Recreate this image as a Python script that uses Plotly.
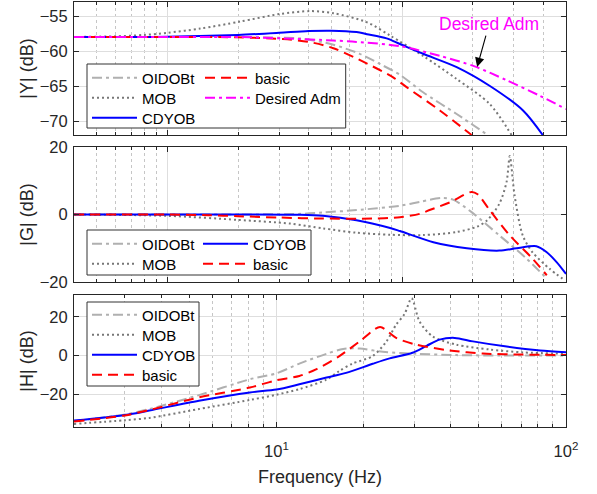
import numpy as np
import plotly.graph_objects as go

# ---------------- data ----------------
# Panel 1 : |Y| (dB)
OIDOBt_Y_f = [0.4, 1.0, 2.0, 3.0, 3.7, 5.1, 6.6, 8.1, 9.8, 12.3, 17.1, 23.2]
OIDOBt_Y = [-58.0, -58.0, -58.0, -58.1, -58.2, -59.1, -60.4, -61.9, -63.4, -65.9, -69.0, -72.0]
MOB_Y_f = [0.4, 0.6, 0.8, 1.0, 1.38, 2.04, 3.03, 4.06, 5.1, 7.1, 8.9, 12.3, 17.1, 23.7, 29.3]
MOB_Y = [-58.0, -57.9, -57.7, -57.4, -56.8, -55.8, -54.7, -54.3, -54.6, -55.9, -57.8, -60.7, -64.0, -67.6, -72.0]
CDYOB_Y_f = [0.4, 1.0, 2.0, 3.0, 4.0, 5.0, 6.4, 7.1, 8.6, 9.8, 12.3, 17.1, 23.7, 32.8, 39.8]
CDYOB_Y = [-58.0, -57.95, -57.7, -57.4, -57.15, -57.1, -57.3, -57.6, -58.2, -59.0, -60.4, -62.3, -65.0, -68.5, -72.0]
basic_Y_f = [0.4, 1.0, 2.0, 3.1, 4.0, 5.1, 7.1, 9.2, 10.5, 14.5, 19.8]
basic_Y = [-58.0, -58.0, -58.05, -58.3, -58.7, -59.6, -61.8, -63.8, -65.2, -68.5, -72.0]
Desired_Y_f = [0.4, 1.0, 2.0, 3.1, 5.1, 6.4, 9.8, 14.5, 20.4, 28.0, 38.7, 50.0]
Desired_Y = [-58.0, -58.0, -58.0, -58.2, -58.5, -58.7, -59.3, -60.7, -62.2, -64.2, -66.4, -68.3]

# Panel 2 : |G| (dB)
OIDOBt_G_f = [0.4, 2.0, 3.7, 4.6, 6.4, 9.8, 12.0, 14.9, 16.5, 19.8, 26.0, 34.0, 41.4]
OIDOBt_G = [0.0, 0.0, 0.2, 0.6, 1.3, 2.6, 3.8, 4.9, 4.4, 0.7, -6.2, -13.1, -19.0]
MOB_G_f = [0.4, 1.0, 2.0, 3.34, 4.6, 6.4, 8.9, 12.3, 17.1, 20.9, 23.0, 26.0, 27.9, 28.8, 30.2, 32.7, 36.0, 42.6, 48.3]
MOB_G = [0.0, -0.4, -1.6, -2.7, -4.1, -5.4, -6.0, -6.1, -5.2, -3.6, -1.8, 3.2, 9.6, 17.3, 5.6, -6.2, -11.2, -16.1, -19.0]
CDYOB_G_f = [0.4, 2.0, 3.7, 4.6, 6.4, 8.9, 9.8, 13.6, 18.9, 26.0, 30.8, 37.4, 41.4, 45.6, 50.0]
CDYOB_G = [0.0, 0.0, -0.1, -0.4, -1.7, -4.0, -4.9, -8.2, -10.0, -10.7, -10.0, -9.4, -11.2, -14.1, -17.6]
basic_G_f = [0.4, 1.0, 1.5, 2.0, 3.0, 4.6, 7.5, 9.8, 11.9, 13.2, 16.0, 19.8, 21.0, 23.7, 28.8, 36.0, 41.4]
basic_G = [0.0, 0.0, -0.2, -0.5, -0.9, -1.2, -1.2, -0.8, 0.2, 1.4, 3.6, 6.7, 6.0, 1.2, -6.2, -13.1, -18.0]

# Panel 3 : |H| (dB)
OIDOBt_H_f = [2, 3, 3.64, 5.4, 8.1, 10, 12, 14.9, 17, 19.4, 23.3, 30.4, 41.8, 60, 100]
OIDOBt_H = [-34.0, -30.5, -27.7, -20.5, -12.3, -9.2, -4.2, 0.9, 3.4, 3.6, 1.9, 0.9, 0.2, 0.0, 0.0]
MOB_H_f = [2, 3, 3.64, 5.4, 8.1, 10, 12, 14.9, 16.5, 18.3, 21.5, 24, 25.9, 27.7, 29.3, 31.2, 34.6, 41.8, 54.5, 71, 100]
MOB_H = [-35.4, -33.5, -32.3, -27.7, -23.0, -20.3, -17.4, -12.5, -8.0, -4.2, -0.3, 7.3, 15.9, 21.5, 29.6, 17.6, 9.9, 5.6, 3.1, 1.6, 0.9]
CDYOB_H_f = [2, 3, 3.64, 5.4, 8.1, 10, 12, 14.9, 17.4, 21.5, 24.6, 29.5, 33, 36.6, 41.3, 47.7, 62.4, 81.3, 100]
CDYOB_H = [-33.7, -30.8, -28.5, -23.4, -19.1, -17.6, -14.9, -11.4, -9.0, -4.3, -1.5, 1.4, 5.0, 8.2, 9.1, 7.3, 4.6, 2.6, 1.7]
basic_H_f = [2, 3, 3.64, 5.4, 8.1, 10, 12, 13.7, 16.5, 19.4, 22.8, 25.9, 30.4, 39.7, 51.7, 71, 100]
basic_H = [-34.2, -31.0, -28.2, -21.7, -16.6, -12.8, -10.6, -7.2, -0.3, 7.3, 14.7, 9.1, 5.6, 2.6, 1.0, 0.5, 0.2]

# tick labels for the frequency axis
freq_tickvals = [10, 100]
freq_ticktext = ["10<sup>1</sup>", "10<sup>2</sup>"]

# --------------- styles ---------------
FONT = "Liberation Sans, Arial, Helvetica, sans-serif"
INK = "#262626"
TICK_SIZE = 16.5
TITLE_SIZE = 18
styles = {
    "OIDOBt": dict(color="#b0b0b0", width=2, dash="10px,4px,3px,4px"),
    "MOB": dict(color="#777777", width=2, dash="2px,3px"),
    "CDYOB": dict(color="#0000ff", width=2, dash="solid"),
    "basic": dict(color="#ff0000", width=2, dash="10px,6px"),
    "Desired Adm": dict(color="#ff00ff", width=2, dash="10px,4px,3px,4px"),
}

W, H = 597, 494
ML, MR, MT, MB = 74, 31, 2, 67
PW, PH = W - ML - MR, H - MT - MB


def py2paper(py):
    return (H - MB - py) / PH


def px2paper(px):
    return (px - ML) / PW


fig = go.Figure()

panels = [
    ("x", "y", [("OIDOBt", OIDOBt_Y_f, OIDOBt_Y), ("MOB", MOB_Y_f, MOB_Y), ("CDYOB", CDYOB_Y_f, CDYOB_Y),
                ("basic", basic_Y_f, basic_Y), ("Desired Adm", Desired_Y_f, Desired_Y)]),
    ("x2", "y2", [("OIDOBt", OIDOBt_G_f, OIDOBt_G), ("MOB", MOB_G_f, MOB_G), ("CDYOB", CDYOB_G_f, CDYOB_G),
                  ("basic", basic_G_f, basic_G)]),
    ("x3", "y3", [("OIDOBt", OIDOBt_H_f, OIDOBt_H), ("MOB", MOB_H_f, MOB_H), ("CDYOB", CDYOB_H_f, CDYOB_H),
                  ("basic", basic_H_f, basic_H)]),
]

# legend item placements (left px, row-centre px)
legend_pos = [
    {"OIDOBt": (87, 78), "MOB": (87, 98), "CDYOB": (87, 118), "basic": (200, 78), "Desired Adm": (200, 98)},
    {"OIDOBt": (87, 244), "MOB": (87, 264), "CDYOB": (198, 244), "basic": (198, 264)},
    {"OIDOBt": (87, 315), "MOB": (87, 335), "CDYOB": (87, 355), "basic": (87, 375)},
]

layout_legends = {}
k = 0
for pi, (xa, ya, series) in enumerate(panels):
    for name, f, v in series:
        k += 1
        lname = "legend" if k == 1 else f"legend{k}"
        fig.add_trace(go.Scatter(
            x=f, y=v, mode="lines", name=name, xaxis=xa, yaxis=ya,
            line=dict(shape="spline", smoothing=0.8, **styles[name]),
            legend=lname, showlegend=True, hoverinfo="skip"))
        lx, ly = legend_pos[pi][name]
        layout_legends[lname] = dict(
            x=px2paper(lx), y=py2paper(ly), xanchor="left", yanchor="middle",
            xref="paper", yref="paper", bgcolor="rgba(0,0,0,0)", borderwidth=0,
            itemwidth=45, font=dict(family=FONT, size=15, color="#000000"),
            itemclick=False, itemdoubleclick=False)

# axes
xcommon = dict(type="log", showline=True, linecolor=INK, linewidth=1, mirror="ticks",
               ticks="inside", ticklen=5, tickcolor=INK, dtick=1, automargin=False,
               showgrid=True, gridcolor="#dedede", gridwidth=1,
               minor=dict(dtick="D1", ticks="inside", ticklen=3, tickcolor=INK,
                          showgrid=True, gridcolor="#c6c6c6", griddash="dot", gridwidth=1),
               tickfont=dict(family=FONT, size=TICK_SIZE, color=INK),
               zeroline=False)
ycommon = dict(showline=True, linecolor=INK, linewidth=1, mirror="ticks", automargin=False,
               ticks="inside", ticklen=5, tickcolor=INK,
               showgrid=True, gridcolor="#dedede", gridwidth=1, zeroline=False,
               tickfont=dict(family=FONT, size=TICK_SIZE, color=INK))

d1 = [py2paper(135), py2paper(2)]
d2 = [py2paper(282), py2paper(147)]
d3 = [py2paper(427), py2paper(295)]

ytitle_font = dict(family=FONT, size=TITLE_SIZE, color=INK)

fig.update_layout(
    width=W, height=H, margin=dict(l=ML, r=MR, t=MT, b=MB, autoexpand=False),
    paper_bgcolor="white", plot_bgcolor="white",
    font=dict(family=FONT, size=15, color=INK),
    xaxis=dict(xcommon, range=[np.log10(0.4), np.log10(50)], anchor="y", domain=[0, 1], showticklabels=False),
    xaxis2=dict(xcommon, range=[np.log10(0.4), np.log10(50)], anchor="y2", domain=[0, 1], showticklabels=False),
    xaxis3=dict(xcommon, range=[np.log10(2), 2], anchor="y3", domain=[0, 1], showticklabels=True,
                tickmode="array", tickvals=freq_tickvals, ticktext=freq_ticktext, ticklabelstandoff=9,
                title=dict(text="Frequency (Hz)", font=ytitle_font, standoff=11)),
    yaxis=dict(ycommon, domain=d1, range=[-72, -53], dtick=5, tick0=-55, anchor="x", ticklabelstandoff=2,
               title=dict(text="|Y| (dB)", font=ytitle_font, standoff=1)),
    yaxis2=dict(ycommon, domain=d2, range=[-20, 20], dtick=20, anchor="x2", ticklabelstandoff=2,
                title=dict(text="|G| (dB)", font=ytitle_font, standoff=1)),
    yaxis3=dict(ycommon, domain=d3, range=[-37, 31.3], dtick=20, tick0=0, anchor="x3", ticklabelstandoff=2,
                title=dict(text="|H| (dB)", font=ytitle_font, standoff=1)),
    **layout_legends,
)

# legend boxes
boxes = [
    ("x domain", "y domain", 87, 345.7, 64, 128, 2, 135),
    ("x2 domain", "y2 domain", 87, 311, 230, 275, 147, 282),
    ("x3 domain", "y3 domain", 87, 199, 302, 386, 295, 427),
]
for xr, yr, x0, x1, y0, y1, top, bot in boxes:
    fig.add_shape(type="rect", xref=xr, yref=yr,
                  x0=(x0 - ML) / PW, x1=(x1 - ML) / PW,
                  y0=(bot - y1) / (bot - top), y1=(bot - y0) / (bot - top),
                  line=dict(color="#333333", width=1), fillcolor="white", layer="above")

# annotation
fig.add_annotation(x=np.log10(20.9), y=-62.3, xref="x", yref="y",
                   text="Desired Adm", showarrow=True, ax=12, ay=-43,
                   arrowhead=2, arrowsize=1.7, arrowwidth=1.1, arrowcolor="#000000",
                   font=dict(family=FONT, size=17.5, color="#ff00ff"))

fig.write_html("out.html", config={"displayModeBar": False},
               post_script="document.body.style.margin='0px';document.body.style.padding='0px';")
